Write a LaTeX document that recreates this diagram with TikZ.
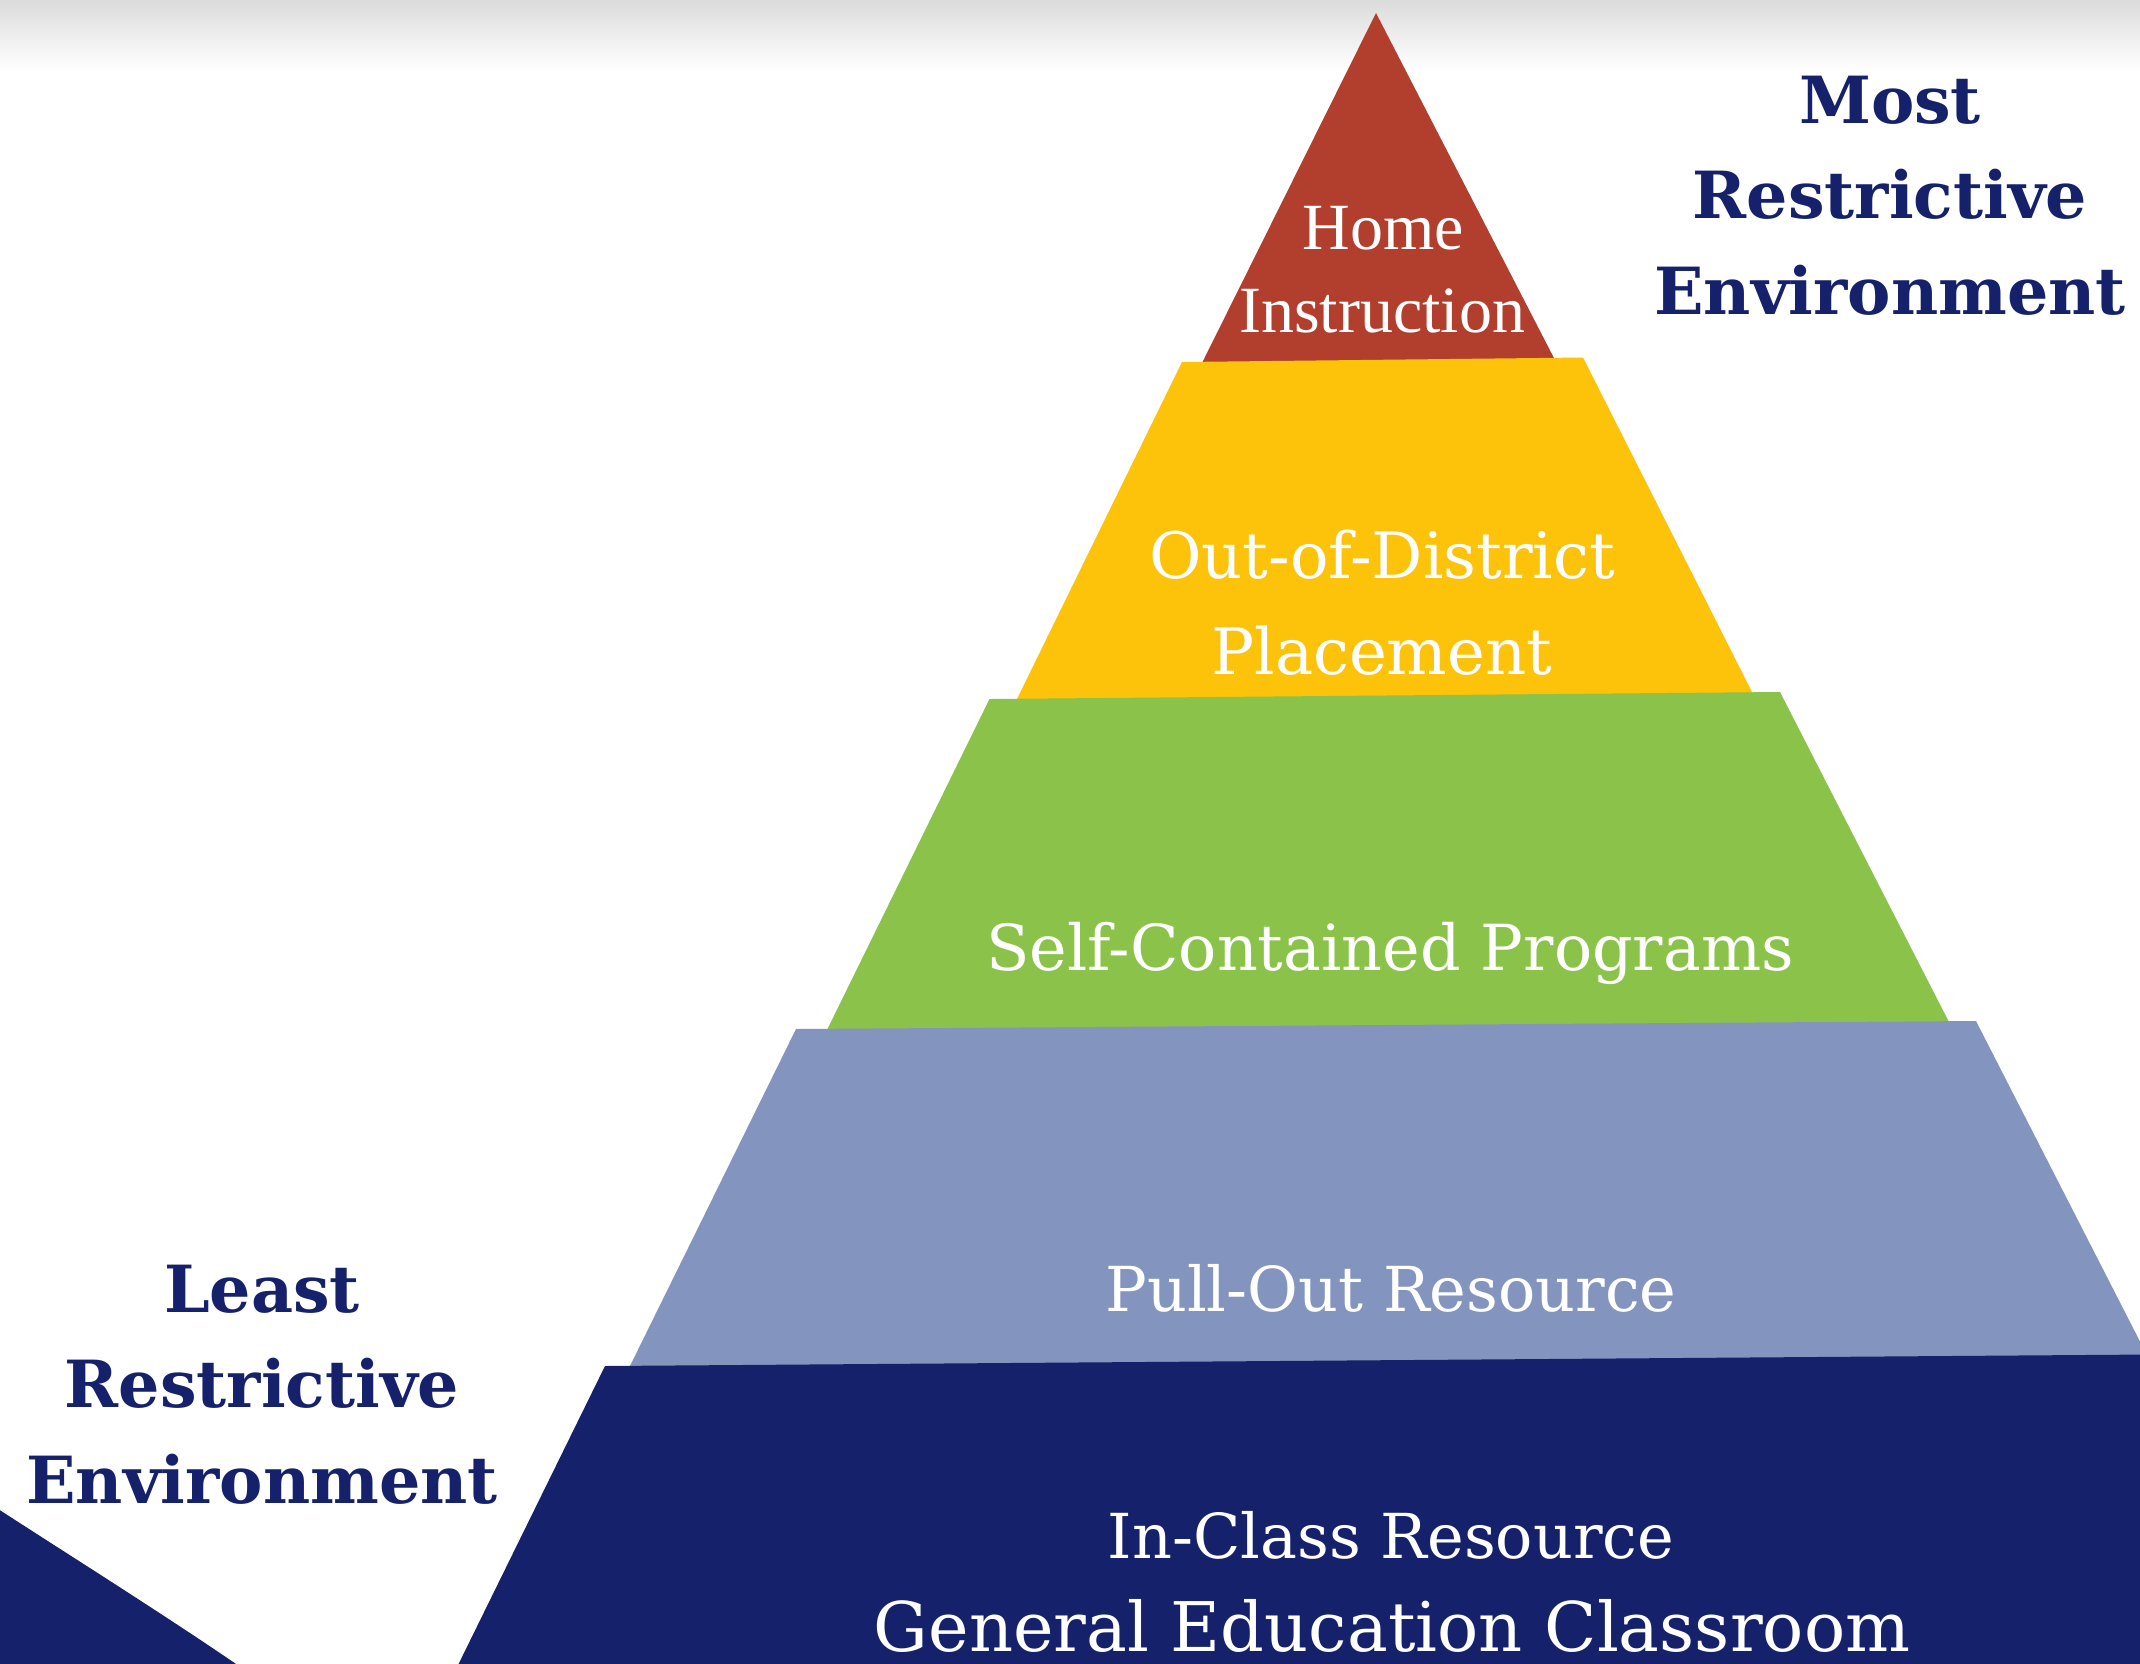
\documentclass[tikz,border=0pt]{standalone}
\usepackage{fontspec}
\newfontfamily\homefont{Liberation Serif}
\newfontfamily\tierfont{DejaVu Serif}
\newfontfamily\sidefont{DejaVu Serif}
\definecolor{tred}{HTML}{B23F2E}
\definecolor{tyellow}{HTML}{FDC20A}
\definecolor{tgreen}{HTML}{8BC34A}
\definecolor{tblue}{HTML}{8394BF}
\definecolor{tnavy}{HTML}{15216A}
\tikzset{
  tier/.style={fill=#1, draw=none},
  lbl/.style={anchor=base, inner sep=0pt, text=white},
  homelbl/.style={lbl, font=\homefont\fontsize{66}{78}\selectfont},
  tierlbl/.style={lbl, font=\tierfont\fontsize{#1}{#1}\selectfont},
  side/.style={anchor=base, inner sep=0pt, text=tnavy, font=\sidefont\bfseries\fontsize{65}{78}\selectfont}
}
\begin{document}
\begin{tikzpicture}[x=1pt,y=-1pt]
\useasboundingbox (0,0) rectangle (2140,1663);
\fill[white] (0,0) rectangle (2140,1663);
\begin{scope}
\clip (0,0) rectangle (2140,1663);
\shade[top color=black!14, bottom color=white] (0,0) rectangle (2140,70);
% tiers, top to bottom
\path[tier=tred] (1376,13) -- (1556,362) -- (1201,365) -- cycle;
\path[tier=tyellow] (1182,362) -- (1583,357.5) -- (1754,696) -- (1016,701) -- cycle;
\path[tier=tgreen] (989.5,699) -- (1780,692) -- (1950,1024) -- (826,1032) -- cycle;
\path[tier=tblue] (796,1029) -- (1976,1021) -- (2152,1365) -- (628,1370) -- cycle;
\path[tier=tnavy] (605,1366) -- (2150,1354.5) -- (2150,1670) -- (455.6,1670) -- cycle;
% bottom-left shape
\path[tier=tnavy] (-5,1507) .. controls (80,1562) and (160,1612) .. (242,1668) -- (-5,1668) -- cycle;
\end{scope}
% tier labels
\node[homelbl] (home1) at (1383,249) {Home};
\node[homelbl] (home2) at (1382,332) {Instruction};
\node[tierlbl=64] (ood1) at (1382,578) {Out-of-District};
\node[tierlbl=64] (ood2) at (1382,674) {Placement};
\node[tierlbl=63.5] (self) at (1390,970) {Self-Contained Programs};
\node[tierlbl=62] (pull) at (1391,1311) {Pull-Out Resource};
\node[tierlbl=62] (incl) at (1391,1558) {In-Class Resource};
\node[tierlbl=68.5] (gen) at (1392,1651) {General Education Classroom};
% side labels
\node[side] (most1) at (1890,123) {Most};
\node[side] (most2) at (1890,218) {Restrictive};
\node[side] (most3) at (1890,314) {Environment};
\node[side] (least1) at (262,1312) {Least};
\node[side] (least2) at (262,1407) {Restrictive};
\node[side] (least3) at (262,1503) {Environment};
\end{tikzpicture}
\end{document}
